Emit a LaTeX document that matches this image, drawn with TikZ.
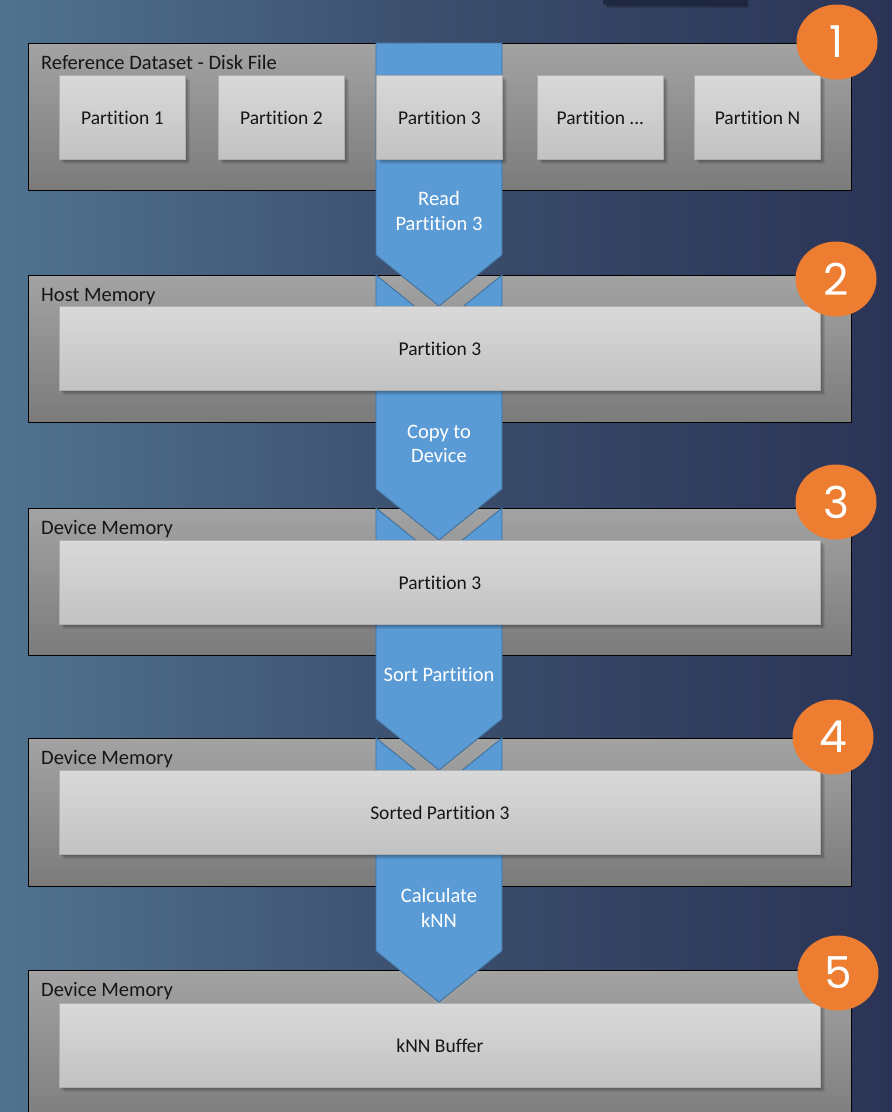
\documentclass[tikz,border=0pt]{standalone}
\usepackage{fontspec}
\setmainfont{Carlito}[Ligatures={TeX,NoCommon}]
\newfontfamily\numfont{Poppins}
\usetikzlibrary{shapes.geometric}
\definecolor{bgL}{HTML}{50738F}
\definecolor{bgM}{HTML}{3B4D6C}
\definecolor{bgR}{HTML}{2B3456}
\definecolor{cTop}{HTML}{A3A3A3}
\definecolor{cBot}{HTML}{7B7B7B}
\definecolor{bTop}{HTML}{D9D9D9}
\definecolor{bBot}{HTML}{C2C2C2}
\definecolor{bEdge}{HTML}{ADADAD}
\definecolor{arrFill}{HTML}{5B9BD5}
\definecolor{arrEdge}{HTML}{41719C}
\definecolor{orng}{HTML}{ED7D31}
\definecolor{topbox}{HTML}{1E2840}
\definecolor{txtDark}{HTML}{161616}
\tikzset{
  cont/.style={draw=black, line width=0.9pt, top color=cTop, bottom color=cBot,
    anchor=north west, inner sep=0pt},
  ibox/.style={draw=bEdge, line width=0.9pt, top color=bTop, bottom color=bBot,
    anchor=north west, inner sep=0pt, text=txtDark,
    font=\fontsize{19.5}{23}\selectfont},
  lbl/.style={anchor=base west, inner sep=0pt, text=txtDark,
    font=\fontsize{20.5}{24}\selectfont},
  arr/.style={fill=arrFill, draw=arrEdge, line width=0.9pt, line join=miter},
  arrlbl/.style={text=white, align=center, inner sep=0pt,
    font=\fontsize{20.5}{24.5}\selectfont},
  num/.style={ellipse, fill=orng, minimum width=81pt, minimum height=75pt,
    inner sep=0pt, text=white, font=\numfont\fontsize{44}{44}\selectfont}
}
\newcommand\mybox[6]{%
  \foreach \s in {1,2,3,4,5} {\fill[black,opacity=.075] (#2+\s,#3+\s) rectangle (#2+#4+\s,#3+#5+\s);}
  \node[ibox, minimum width=#4pt, minimum height=#5pt] (#1) at (#2,#3) {#6};
}
\begin{document}
\begin{tikzpicture}[x=1pt,y=-1pt]
\useasboundingbox (0,0) rectangle (892,1112);
\clip (0,0) rectangle (892,1112);
% background
\shade[left color=bgL, right color=bgR, middle color=bgM] (0,0) rectangle (892,1112);
% dark box at the top
\foreach \s in {1,2,3,4} {\fill[black,opacity=.12] (603+\s,0) rectangle (745+\s,4+\s);}
\fill[topbox] (603,0) rectangle (745,4);
% containers
\node[cont, minimum width=823pt, minimum height=147pt] (c1) at (28,43) {};
\node[cont, minimum width=823pt, minimum height=147pt] (c2) at (28,275) {};
\node[cont, minimum width=823pt, minimum height=147pt] (c3) at (28,508) {};
\node[cont, minimum width=823pt, minimum height=148pt] (c4) at (28,738) {};
\node[cont, minimum width=823pt, minimum height=160pt] (c5) at (28,970) {};
% arrows
\draw[arr] (376,43) -- (502,43) -- (502,255) -- (439,306) -- (376,255) -- cycle;
\draw[arr] (376,275) -- (439,326) -- (502,275) -- (502,489) -- (439,540) -- (376,489) -- cycle;
\draw[arr] (376,508) -- (439,559) -- (502,508) -- (502,719) -- (439,770) -- (376,719) -- cycle;
\draw[arr] (376,738) -- (439,789) -- (502,738) -- (502,951) -- (439,1002) -- (376,951) -- cycle;
% container labels
\node[lbl] (l1) at (41,69) {Reference Dataset - Disk File};
\node[lbl] (l2) at (41,301) {Host Memory};
\node[lbl] (l3) at (41,534) {Device Memory};
\node[lbl] (l4) at (41,764) {Device Memory};
\node[lbl] (l5) at (41,996) {Device Memory};
% inner boxes
\mybox{p1}{59}{75}{126}{84}{Partition 1}
\mybox{p2}{218}{75}{126}{84}{Partition 2}
\mybox{p3}{376}{75}{126}{84}{Partition 3}
\mybox{p4}{537}{75}{126}{84}{Partition ...}
\mybox{p5}{694}{75}{126}{84}{Partition N}
\mybox{b2}{59}{306}{761}{84}{Partition 3}
\mybox{b3}{59}{540}{761}{84}{Partition 3}
\mybox{b4}{59}{770}{761}{84}{Sorted Partition 3}
\mybox{b5}{59}{1003}{761}{84}{kNN Buffer}
% arrow labels
\node[arrlbl] (a1) at (439,211) {Read\\Partition 3};
\node[arrlbl] (a2) at (439,444) {Copy to\\Device};
\node[arrlbl] (a3) at (439,675) {Sort Partition};
\node[arrlbl] (a4) at (439,908) {Calculate\\kNN};
% numbered circles
\node[num] (n1) at (837,42) {1};
\node[num] (n2) at (836,279) {2};
\node[num] (n3) at (836,502) {3};
\node[num] (n4) at (833,737) {4};
\node[num] (n5) at (838,973) {5};
\end{tikzpicture}
\end{document}
